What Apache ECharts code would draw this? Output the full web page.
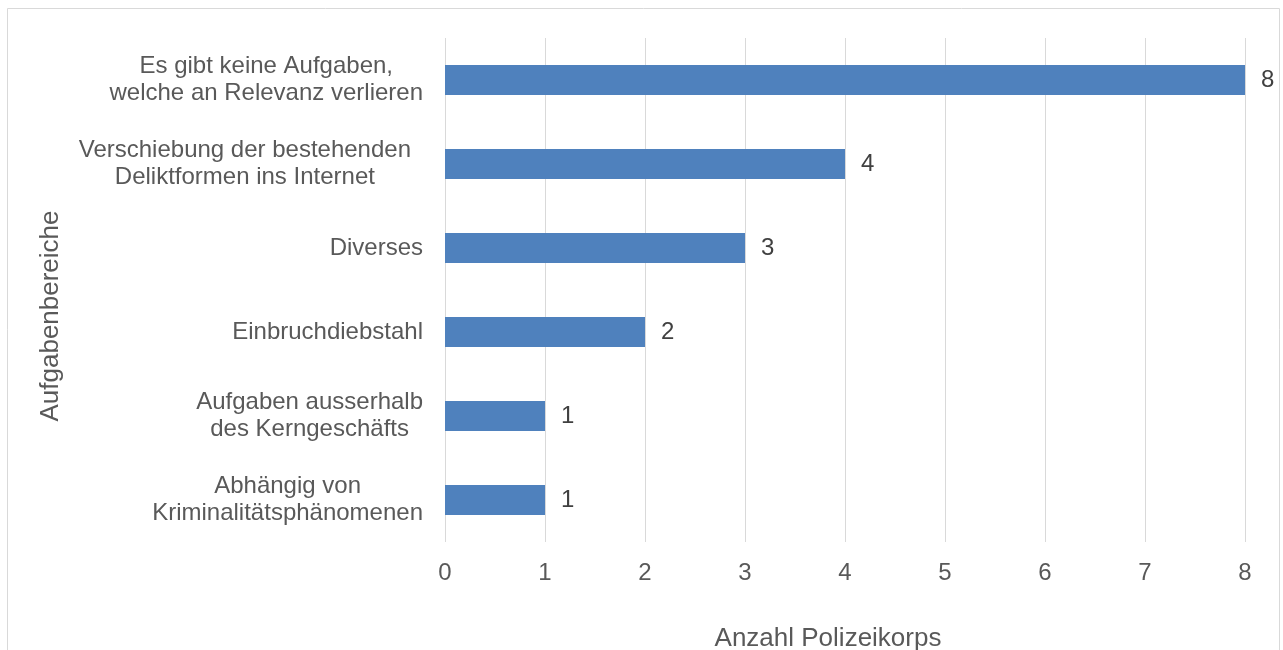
<!DOCTYPE html>
<html>
<head>
<meta charset="UTF-8">
<title>Aufgabenbereiche</title>
<script type="text/javascript" src="https://cdn.jsdelivr.net/npm/echarts@6/dist/echarts.min.js"></script>
<style>
html,body{margin:0;padding:0;background:#fff;}
</style>
</head>
<body>
<div id="main" style="width:1283px;height:650px;"></div>

<script type="text/javascript">
// categories, top to bottom
var categories = [
  'Es gibt keine Aufgaben,\nwelche an Relevanz verlieren',
  'Verschiebung der bestehenden \nDeliktformen ins Internet',
  'Diverses',
  'Einbruchdiebstahl',
  'Aufgaben ausserhalb\ndes Kerngeschäfts',
  'Abhängig von\nKriminalitätsphänomenen'
];
var counts = [8, 4, 3, 2, 1, 1];
var xTicks = [0, 1, 2, 3, 4, 5, 6, 7, 8];

var textColor = '#595959';
var fontFam = '"Liberation Sans", Arial, sans-serif';

var mychart = echarts.init(document.getElementById('main'));

// Zeilen zentrieren; ein Leerzeichen am Zeilenende wird wie in Excel
// rechts freigehalten, aber nicht mitzentriert
function catLabel(v) {
  var lines = v.split('\n');
  var trail = lines.some(function (s) { return / $/.test(s); });
  return lines.map(function (s) {
    return '{c|' + s.replace(/ +$/, '') + '}' + (trail ? '{s|}' : '');
  }).join('\n');
}

var option = {
  backgroundColor: '#fff',
  animation: false,
  // Rahmen um das Diagramm
  graphic: [{
    type: 'rect',
    shape: { x: 7.5, y: 8.5, width: 1272, height: 700 },
    style: { fill: 'none', stroke: '#d9d9d9', lineWidth: 1 },
    silent: true
  }],
  grid: { left: 445, right: 38, top: 38, bottom: 108, outerBoundsMode: 'none' },
  xAxis: {
    type: 'value',
    min: xTicks[0],
    max: xTicks[xTicks.length - 1],
    interval: 1,
    name: 'Anzahl Polizeikorps',
    nameLocation: 'middle',
    nameGap: 84,
    nameTextStyle: { color: textColor, fontSize: 26, fontFamily: fontFam, padding: [0, 34, 0, 0] },
    axisLine: { show: false },
    axisTick: { show: false },
    axisLabel: { color: textColor, fontSize: 24, fontFamily: fontFam, margin: 19 },
    splitLine: { show: true, lineStyle: { color: '#d9d9d9', width: 1 } }
  },
  yAxis: {
    type: 'category',
    data: categories,
    inverse: true,
    name: 'Aufgabenbereiche',
    nameLocation: 'middle',
    nameGap: 381,
    nameTextStyle: { color: textColor, fontSize: 26, fontFamily: fontFam, padding: [0, 52, 0, 0] },
    axisLine: { show: false },
    axisTick: { show: false },
    axisLabel: {
      color: textColor, fontSize: 24, fontFamily: fontFam,
      margin: 22, lineHeight: 27, align: 'right',
      formatter: catLabel,
      rich: {
        c: { align: 'center', color: textColor, fontSize: 24, fontFamily: fontFam, lineHeight: 27 },
        s: { align: 'right', width: 12, fontSize: 24, lineHeight: 27 }
      }
    },
    splitLine: { show: false }
  },
  series: [{
    type: 'bar',
    data: counts,
    barWidth: 30,
    itemStyle: { color: '#4f81bd' },
    label: {
      show: true,
      position: 'right',
      distance: 16,
      color: '#404040',
      fontSize: 24,
      fontFamily: fontFam
    }
  }]
};

mychart.setOption(option);
</script>
</body>
</html>
